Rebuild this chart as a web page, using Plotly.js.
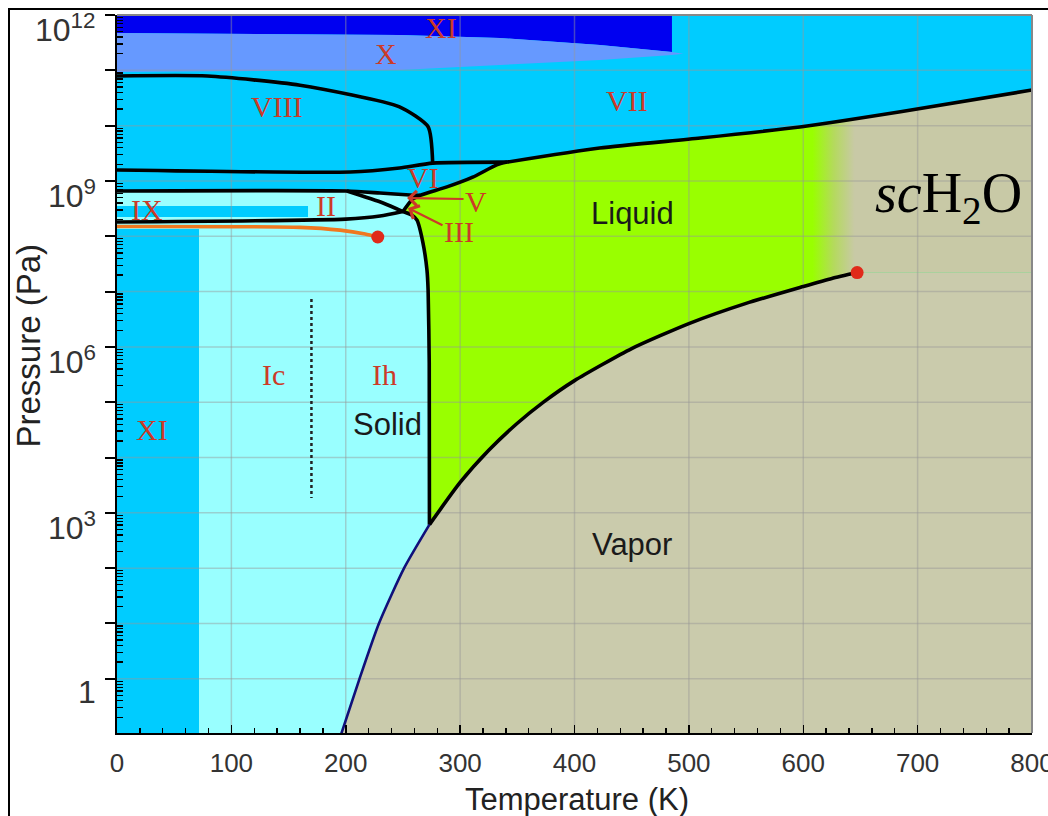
<!DOCTYPE html>
<html><head><meta charset="utf-8">
<script src="https://cdn.plot.ly/plotly-3.0.1.min.js"></script>
<style>
html,body{margin:0;padding:0;background:#fff;}
#chart{width:1048px;height:816px;}
#frame{position:absolute;left:8px;top:8px;width:1040px;height:808px;border-left:2px solid #000;border-top:2px solid #000;pointer-events:none;}
</style>
</head><body>
<div id="chart"></div><div id="frame"></div>
<script>
// ---- data: temperature (K) and pressure (Pa) ----
const T_sub = [196, 212, 229, 251, 273.16];
const P_sub = [0.1, 1, 10, 100, 611.657];
const T_vap = [273.16, 300, 325, 350, 373.15, 400, 450, 500, 550, 600, 625, 647.1];
const P_vap = [611.657, 3537, 13500, 41680, 101325, 245600, 932000, 2639000, 6117000, 12345000, 17300000, 22064000];
const T_meltIh = [250, 258, 262.3, 267.5, 271, 272, 273, 273.16];
const P_meltIh = [2.8e8, 2.4e8, 1.95e8, 7.6e7, 2.45e7, 1.07e7, 5.1e5, 611.657];
const T_liqHigh = [250, 258, 265, 288.5, 311, 332, 341];
const P_liqHigh = [2.8e8, 4.6e8, 5.5e8, 7.8e8, 1.17e9, 1.95e9, 2.19e9];
const T_liqVII = [341, 422, 510, 597, 685, 800];
const P_liqVII = [2.19e9, 3.94e9, 5.97e9, 9.44e9, 1.78e10, 4.4e10];
const T_VIline = [0, 204, 247, 276, 341];
const P_VIline = [1.58e9, 1.45e9, 1.72e9, 2.1e9, 2.19e9];
const T_VIII = [0, 79, 160, 247, 272, 276];
const P_VIII = [7.89e10, 7.89e10, 5.37e10, 2.19e10, 9.55e9, 2.1e9];
const T_IIVI = [0, 201, 230, 256, 265];
const P_IIVI = [6.58e8, 6.58e8, 6.05e8, 5.57e8, 5.5e8];
const T_IIV = [201, 232.6, 250];
const P_IIV = [6.58e8, 4.0e8, 2.8e8];
const T_IhII = [0, 200, 230, 250];
const P_IhII = [1.81e8, 2.04e8, 2.32e8, 2.8e8];
const T_liqliq = [0, 160, 195, 217, 228];
const P_liqliq = [1.50e8, 1.45e8, 1.29e8, 1.10e8, 9.7e7];
const T_XItop = [0, 247.4, 334.9, 422.3, 485.2];
const P_XItop = [4.73e11, 4.35e11, 3.84e11, 2.87e11, 2.14e11];
const T_Xlow = [0, 247.4, 334.9, 422.3, 485.2, 495];
const P_Xlow = [9.33e10, 1.01e11, 1.25e11, 1.53e11, 1.89e11, 2.0e11];
const T_XIlow = [0, 71.7];
const P_XIlow = [0.1, 1.35e8];
const T_IX = [0, 167];
const P_IX = [2.23e8, 3.52e8];
const T_IcIh = [170, 170];
const P_IcIh = [7.33e6, 1.85e3];
const critT = 647.1, critP = 22064000;
const cp2T = 228, cp2P = 9.7e7;
const T_min = 0, T_max = 800, P_bot = 0.1, P_top = 1.2e12;

// grid / tick values
const gridT = [100, 200, 300, 400, 500, 600, 700];
const gridDec = [1, 10, 100, 1e3, 1e4, 1e5, 1e6, 1e7, 1e8, 1e9, 1e10, 1e11];
const xTicks = [0, 100, 200, 300, 400, 500, 600, 700, 800];
const yTickDec = [1, 10, 100, 1e3, 1e4, 1e5, 1e6, 1e7, 1e8, 1e9, 1e10, 1e11, 1e12];
const yLabVals = [1, 1e3, 1e6, 1e9, 1e12];
const yLabText = ['1', '10<sup>3</sup>', '10<sup>6</sup>', '10<sup>9</sup>', '10<sup>12</sup>'];
const minorMult = [2, 3, 4, 5, 6, 7, 8, 9];
const minorDec = [0.1, 1, 10, 100, 1e3, 1e4, 1e5, 1e6, 1e7, 1e8, 1e9, 1e10, 1e11];

// phase labels [text, T, log10 P]
const romanLabels = [
  ['XI', 283.3, 11.78], ['X', 235.2, 11.31], ['VIII', 139.9, 10.34], ['VII', 445.9, 10.46],
  ['VI', 267.5, 9.07], ['V', 313.9, 8.62], ['III', 299, 8.09], ['II', 182.7, 8.565],
  ['IX', 26.2, 8.49], ['Ic', 136.4, 5.51], ['Ih', 234.3, 5.51], ['XI', 30.6, 4.515]
];
const blackLabels = [['Liquid', 451.1, 8.42], ['Vapor', 450.3, 2.42], ['Solid', 236.1, 4.605]];
// arrows [tailT, tailLogP, tipT, tipLogP]
const arrows = [[304.3, 8.673, 253.6, 8.69], [285.9, 8.185, 254.4, 8.51]];

const C_VII = '#00CCFF', C_I = '#99FFFF', C_LIQ = '#99FF00', C_VAP = '#CACBAC',
      C_X = '#6699FF', C_XI = '#0000F0', C_RED = '#CC3A28';

function poly(x, y, color, extra) {
  return Object.assign({type: 'scatter', mode: 'lines', x: x, y: y, fill: 'toself',
    fillcolor: color, line: {width: 0, color: color}, hoverinfo: 'skip'}, extra || {});
}
function line(x, y, color, w, dash) {
  return {type: 'scatter', mode: 'lines', x: x, y: y, hoverinfo: 'skip',
    line: {color: color, width: w, dash: dash || 'solid', shape: 'spline', smoothing: 0.6}};
}
const rev = a => a.slice().reverse();

const traces = [];
// XI (top)
traces.push(poly([T_min, ...T_XItop, T_XItop[T_XItop.length - 1]],
  [P_top, ...P_XItop, P_top], C_XI));
// X
traces.push(poly([...T_XItop, ...rev(T_Xlow)], [...P_XItop, ...rev(P_Xlow)], C_X));
// Ih / II / V region (light cyan)
traces.push(poly(
  [T_min, ...T_IIVI, T_liqHigh[1], T_liqHigh[0], ...T_meltIh.slice(1), T_meltIh[T_meltIh.length - 1]],
  [P_bot, ...P_IIVI, P_liqHigh[1], P_liqHigh[0], ...P_meltIh.slice(1), P_bot], C_I));
// XI (low) and IX
traces.push(poly([T_XIlow[0], T_XIlow[1], T_XIlow[1], T_XIlow[0]], [P_XIlow[0], P_XIlow[0], P_XIlow[1], P_XIlow[1]], C_VII));
traces.push(poly([T_IX[0], T_IX[1], T_IX[1], T_IX[0]], [P_IX[0], P_IX[0], P_IX[1], P_IX[1]], C_VII));
// Liquid
traces.push(poly(
  [...T_vap, T_max, ...rev(T_liqVII), ...rev(T_liqHigh), ...T_meltIh],
  [...P_vap, critP, ...rev(P_liqVII), ...rev(P_liqHigh), ...P_meltIh], C_LIQ));
// Vapor
traces.push(poly([...T_sub, ...T_vap.slice(1), T_max, T_max],
  [...P_sub, ...P_vap.slice(1), critP, P_bot], C_VAP));
// supercritical (gradient from liquid)
const scTop = T_liqVII.map((t, i) => [t, P_liqVII[i]]).filter(p => p[0] >= 597);
const scBot = T_vap.map((t, i) => [t, P_vap[i]]).filter(p => p[0] >= 600).reverse();
traces.push(poly(
  [...scTop.map(p => p[0]), T_max, ...scBot.map(p => p[0])],
  [...scTop.map(p => p[1]), critP, ...scBot.map(p => p[1])], '#C8C9A6',
  {fillgradient: {type: 'horizontal', start: 608, stop: 645,
    colorscale: [[0, C_LIQ], [0.5, '#B4DA5C'], [1, '#C8C9A6']]}}));
// grid
const gx = [], gy = [];
gridT.forEach(t => { gx.push(t, t, null); gy.push(P_bot, P_top, null); });
gridDec.forEach(d => { gx.push(T_min, T_max, null); gy.push(d, d, null); });
traces.push({type: 'scatter', mode: 'lines', x: gx, y: gy, hoverinfo: 'skip',
  line: {color: 'rgba(150,150,150,0.45)', width: 1.5}});
// boundaries
const BW = 3.6;
traces.push(line(T_VIII, P_VIII, '#000', BW));
traces.push(line(T_VIline, P_VIline, '#000', BW));
traces.push(line(T_IIVI, P_IIVI, '#000', BW));
traces.push(line(T_IIV, P_IIV, '#000', BW));
traces.push(line(T_IhII, P_IhII, '#000', BW));
traces.push(line(T_liqHigh, P_liqHigh, '#000', BW));
traces.push(line(T_liqVII, P_liqVII, '#000', BW));
traces.push(line(T_meltIh, P_meltIh, '#000', BW));
traces.push(line(T_vap, P_vap, '#000', BW));
traces.push(line(T_sub, P_sub, '#10107A', 2.6));
traces.push(line(T_liqliq, P_liqliq, '#F07820', 3.6));
traces.push({type: 'scatter', mode: 'lines', x: T_IcIh, y: P_IcIh, hoverinfo: 'skip',
  line: {color: '#222', width: 2.5, dash: 'dot'}});
traces.push({type: 'scatter', mode: 'markers', x: [cp2T, critT], y: [cp2P, critP], hoverinfo: 'skip',
  marker: {color: '#E02A1A', size: 13}});

const annotations = [];
romanLabels.forEach(l => annotations.push({x: l[1], y: l[2], xref: 'x', yref: 'y', text: l[0],
  showarrow: false, font: {family: 'Liberation Serif, Times New Roman, serif', size: 30, color: C_RED}}));
blackLabels.forEach(l => annotations.push({x: l[1], y: l[2], xref: 'x', yref: 'y', text: l[0],
  showarrow: false, font: {family: 'Liberation Sans, Arial, sans-serif', size: 31, color: '#1a1a1a'}}));
arrows.forEach(a => annotations.push({x: a[2], y: a[3], ax: a[0], ay: a[1], xref: 'x', yref: 'y',
  axref: 'x', ayref: 'y', text: '', showarrow: true, arrowhead: 4, arrowsize: 1.3, arrowwidth: 2.2,
  arrowcolor: C_RED}));
annotations.push({x: 727, y: 8.71, xref: 'x', yref: 'y', text: '<i>sc</i>H<sub>2</sub>O', showarrow: false,
  font: {family: 'Liberation Serif, Times New Roman, serif', size: 56, color: '#000'}});
yLabVals.forEach((v, i) => annotations.push({x: -0.021, y: Math.log10(v), xref: 'paper', yref: 'y',
  text: yLabText[i], showarrow: false, xanchor: 'right', yanchor: 'middle', yshift: -13,
  font: {family: 'Liberation Sans, Arial, sans-serif', size: 32, color: '#333'}}));
annotations.push({x: -0.097, y: 0.54, xref: 'paper', yref: 'paper', text: 'Pressure (Pa)', textangle: -90,
  showarrow: false, xanchor: 'center', yanchor: 'middle',
  font: {family: 'Liberation Sans, Arial, sans-serif', size: 33, color: '#222'}});
annotations.push({x: 0.503, y: -0.093, xref: 'paper', yref: 'paper', text: 'Temperature (K)',
  showarrow: false, xanchor: 'center', yanchor: 'middle',
  font: {family: 'Liberation Sans, Arial, sans-serif', size: 31, color: '#222'}});

const minorVals = [];
minorDec.forEach(d => minorMult.forEach(m => minorVals.push(m * d)));

const layout = {
  width: 1048, height: 816,
  margin: {l: 117, r: 16, t: 15, b: 83},
  paper_bgcolor: '#ffffff', plot_bgcolor: C_VII,
  showlegend: false,
  xaxis: {range: [T_min, T_max], tickmode: 'array', tickvals: xTicks, showgrid: false, zeroline: false,
    ticks: 'inside', ticklen: 8, tickwidth: 1.5, tickcolor: '#000', ticklabeloverflow: 'allow',
    showline: true, linecolor: '#000', linewidth: 2, ticklabelstandoff: 6,
    tickfont: {family: 'Liberation Sans, Arial, sans-serif', size: 26, color: '#333'},
    minor: {dtick: 20, ticks: 'inside', ticklen: 5, tickwidth: 1.3, tickcolor: '#000', showgrid: false}},
  yaxis: {type: 'log', range: [-0.98, 12], tickmode: 'array', tickvals: yTickDec, showticklabels: false,
    showgrid: false, zeroline: false, ticks: 'outside', ticklen: 10, tickwidth: 2, tickcolor: '#000',
    showline: true, linecolor: '#000', linewidth: 2,
    minor: {tickmode: 'array', tickvals: minorVals, ticks: 'inside', ticklen: 6, tickwidth: 1.3,
      tickcolor: '#000', showgrid: false}},
  shapes: [
    {type: 'line', xref: 'paper', yref: 'paper', x0: 0, x1: 1, y0: 1, y1: 1, line: {color: '#888', width: 2}},
    {type: 'line', xref: 'paper', yref: 'paper', x0: 1, x1: 1, y0: 0, y1: 1, line: {color: '#888', width: 2}}
  ],
  annotations: annotations
};
Plotly.newPlot('chart', traces, layout, {displayModeBar: false, staticPlot: true});
</script>
</body></html>
